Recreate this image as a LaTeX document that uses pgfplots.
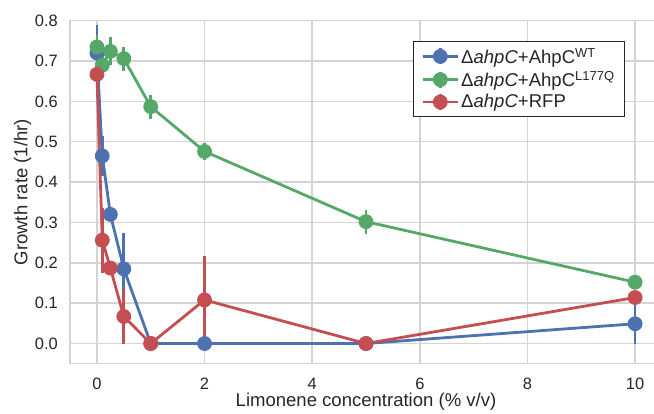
\documentclass[border=0pt]{standalone}
\usepackage{pgfplots}
\pgfplotsset{compat=1.18}
\usepackage{fontspec}
\setmainfont{Liberation Sans}
\definecolor{sbblue}{HTML}{4C72B0}
\definecolor{sbgreen}{HTML}{55A868}
\definecolor{sbred}{HTML}{C44E52}
\definecolor{gridc}{HTML}{D4D4D4}
\definecolor{txt}{HTML}{262626}
\begin{document}
\begin{tikzpicture}
\begin{axis}[
  at={(0,0)}, anchor=south west,
  scale only axis, width=592bp, height=343bp,
  xmin=-0.5, xmax=10.5, ymin=-0.05, ymax=0.8,
  xtick={0,2,4,6,8,10}, ytick={0,0.1,...,0.8},
  major tick length=0pt,
  grid=major,
  major grid style={gridc, line width=1.4bp},
  axis line style={gridc, line width=1.4bp},
  /pgf/number format/assume math mode=true,
  yticklabel style={/pgf/number format/fixed, /pgf/number format/fixed zerofill, /pgf/number format/precision=1},
  ticklabel style={font=\fontsize{16.5}{19}\selectfont, text=txt},
  xticklabel style={inner sep=0pt, anchor=north},
  xticklabel shift=14bp,
  yticklabel style={inner sep=0pt, anchor=east},
  yticklabel shift=12bp,
  label style={font=\fontsize{18.6}{22}\selectfont, text=txt},
  xlabel={Limonene concentration (\% v/v)},
  ylabel={Growth rate (1/hr)},
  x label style={at={(axis description cs:0.5,-0.112)}, anchor=center, inner sep=0pt},
  y label style={at={(axis description cs:-0.0802,0.5)}, anchor=center, inner sep=0pt},
  legend cell align=left,
  legend style={at={(axis description cs:0.9375,0.9417)}, anchor=north east,
    draw=txt, line width=0.8bp, fill=white,
    font=\fontsize{18.6}{22}\selectfont, text=txt,
    row sep=2.5bp, inner xsep=8bp, inner ysep=5bp},
  legend image code/.code={%
    \draw[line width=2.8bp] (0bp,0bp) -- (35bp,0bp);
    \fill (17.5bp,0bp) circle (6bp);
    \draw[line width=2.8bp] (17.5bp,-8bp) -- (17.5bp,8bp);
  },
  every axis plot/.append style={line width=2.8bp, mark=*, mark size=6bp,
     mark options={solid},
     error bars/y dir=both, error bars/y explicit,
     error bars/error mark=none,
     error bars/error bar style={line width=2.8bp}},
]
\addplot[color=sbblue] coordinates {
  (0,0.720) +- (0,0.07)
  (0.1,0.465) +- (0,0.05)
  (0.25,0.320) +- (0,0.015)
  (0.5,0.185) +- (0,0.09)
  (1,0) +- (0,0)
  (2,0) +- (0,0)
  (5,0) +- (0,0)
  (10,0.049) +- (0,0.049)
};
\addlegendentry{Δ\textit{ahpC}+AhpC\textsuperscript{WT}}
\addplot[color=sbgreen] coordinates {
  (0,0.735) +- (0,0.03)
  (0.1,0.690) +- (0,0.025)
  (0.25,0.724) +- (0,0.035)
  (0.5,0.706) +- (0,0.03)
  (1,0.587) +- (0,0.03)
  (2,0.476) +- (0,0.02)
  (5,0.302) +- (0,0.03)
  (10,0.152) +- (0,0.012)
};
\addlegendentry{Δ\textit{ahpC}+AhpC\textsuperscript{L177Q}}
\addplot[color=sbred] coordinates {
  (0,0.667) +- (0,0.04)
  (0.1,0.256) +- (0,0.08)
  (0.25,0.187) +- (0,0.01)
  (0.5,0.067) +- (0,0.067)
  (1,0) +- (0,0)
  (2,0.108) +- (0,0.108)
  (5,0) +- (0,0)
  (10,0.114) +- (0,0.015)
};
\addlegendentry{Δ\textit{ahpC}+RFP}
\end{axis}
\pgfresetboundingbox
\path (-70bp,-50.3bp) rectangle (584bp,363.7bp);
\end{tikzpicture}
\end{document}
